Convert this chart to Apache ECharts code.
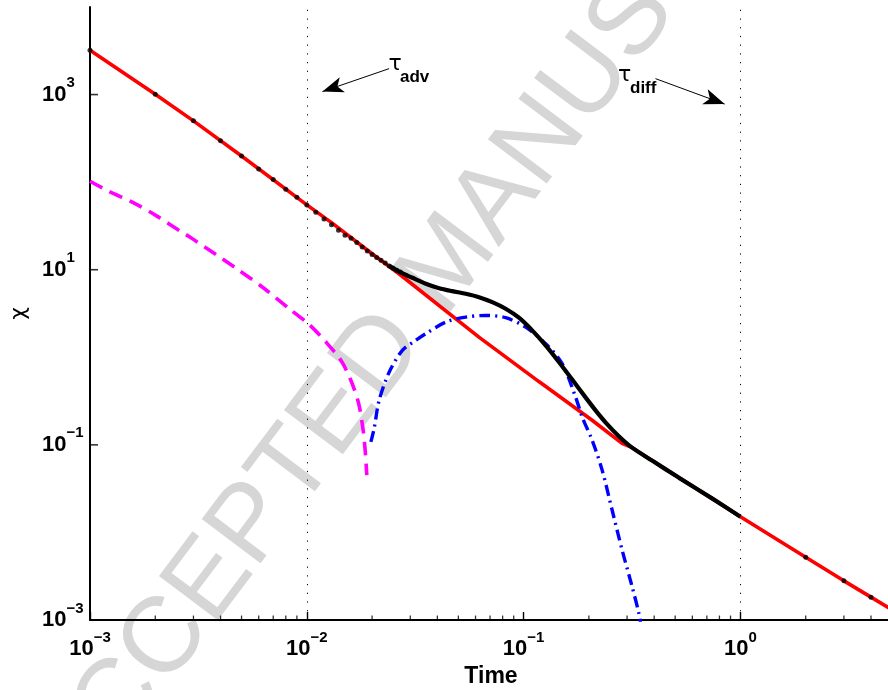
<!DOCTYPE html>
<html><head><meta charset="utf-8">
<script src="https://cdn.jsdelivr.net/npm/echarts@6/dist/echarts.min.js"></script>
<style>html,body{margin:0;padding:0;background:#fff}#c{width:888px;height:690px}</style>
</head><body><div id="c"></div>
<script>
// axis ranges and ticks
const xMin = 1e-3, xMax = 5, yMin = 1e-3, yMax = 1e4;
const xMinorTicks = [0.002,0.003,0.004,0.005,0.006,0.007,0.008,0.009,
  0.02,0.03,0.04,0.05,0.06,0.07,0.08,0.09,
  0.2,0.3,0.4,0.5,0.6,0.7,0.8,0.9,
  2,3,4];
const yTickValues = [1e-3, 1e-1, 1e1, 1e3];
const tauLines = [0.01, 1];

// red solid curve
const redT   = [0.001, 0.002, 0.003, 0.005, 0.01, 0.013, 0.02, 0.0266, 0.0622, 0.1176, 0.207, 0.2844, 0.3164, 0.3912, 0.519, 0.7391, 1, 2, 3, 4, 5];
const redChi = [3206, 1010, 501, 199, 55, 34.5, 15.2, 9.0, 1.70, 0.528, 0.191, 0.1038, 0.0929, 0.0661, 0.04228, 0.02449, 0.01514, 0.00521, 0.0028, 0.001824, 0.00131];

// black markers (sparse part)
const blackDotT   = [0.001,0.002,0.003,0.004,0.005,0.006,0.007,0.008,0.009,0.010,0.011,0.012,0.013,0.014,0.015,0.016,0.017,0.018,0.019,0.020,0.021,0.022,0.023,0.024,0.025,0.026,0.027, 2, 3, 4, 5];
const blackDotChi = [3206,1010,501,297,199,141,107,83,67,55,45.2,38.0,32.7,28.3,24.8,22.9,20.4,18.2,16.4,14.96,13.8,12.8,11.9,11.05,10.37,9.84,9.40, 0.00521, 0.0028, 0.001824, 0.00131];

// black dense part
const blackLineT   = [0.024, 0.026, 0.028, 0.0307, 0.03537, 0.04074, 0.0469, 0.05405, 0.06225, 0.07166, 0.08262, 0.09515, 0.1095, 0.1263, 0.1454, 0.1675, 0.193, 0.2146, 0.2385, 0.2748, 0.3164, 0.3912, 0.519, 0.7391, 1];
const blackLineChi = [11.05, 9.84, 8.98, 8.09, 6.91, 6.155, 5.69, 5.31, 4.86, 4.26, 3.584, 2.83, 2.028, 1.368, 0.883, 0.5563, 0.3486, 0.2478, 0.1809, 0.1256, 0.0929, 0.0661, 0.04228, 0.02449, 0.01514];

// blue dash-dot curve
const blueT   = [0.01974, 0.02044, 0.02156, 0.02397, 0.02759, 0.03181, 0.03537, 0.04372, 0.05405, 0.06683, 0.08262, 0.1021, 0.1263, 0.1506, 0.1736, 0.1862, 0.207, 0.2302, 0.2559, 0.2845, 0.3164, 0.3398, 0.3469];
const blueChi = [0.108, 0.1538, 0.3231, 0.6741, 1.200, 1.561, 1.860, 2.522, 2.875, 3.006, 2.830, 2.212, 1.431, 0.8466, 0.3524, 0.2085, 0.1131, 0.05147, 0.01803, 0.00631, 0.002408, 0.001199, 0.000882];

// magenta dashed curve
const magentaT   = [0.001, 0.00123, 0.001574, 0.002018, 0.002584, 0.002975, 0.004883, 0.006364, 0.008296, 0.01026, 0.01225, 0.01436, 0.01596, 0.01734, 0.01819, 0.01858, 0.01891];
const magentaChi = [102.5, 77.8, 58.8, 41.5, 27.97, 22.5, 9.79, 6.106, 3.584, 2.361, 1.492, 0.923, 0.546, 0.2963, 0.1471, 0.087, 0.04515];

// annotation arrows (data coordinates: from -> to)
const advArrow  = [[0.02396, 1977], [0.01181, 1082]];
const diffArrow = [[0.4055, 1521], [0.8457, 778]];

const zip = (a, b) => a.map((v, i) => [v, b[i]]);
const FONT = 'Liberation Sans';

function expLabel(v, oddOnly) {
  const e = Math.round(Math.log10(v));
  if (Math.abs(Math.log10(v) - e) > 1e-6) return '';
  if (oddOnly && e % 2 === 0) return '';
  return '{b|10}{e|' + (e < 0 ? '\u2212' : '') + Math.abs(e) + '}';
}
const labelRich = {
  b: {fontSize: 22, fontWeight: 'bold', fontFamily: FONT, color: '#000', lineHeight: 38},
  e: {fontSize: 15, fontWeight: 'bold', fontFamily: FONT, color: '#000', lineHeight: 15, verticalAlign: 'top'}
};

const chart = echarts.init(document.getElementById('c'), null, {renderer: 'canvas'});
chart.setOption({
  animation: false,
  backgroundColor: '#fff',
  grid: {left: 90, top: 7, width: 802, bottom: 70, containLabel: false, outerBoundsMode: 'none'},
  graphic: [
    {type: 'text', x: 450, y: 263, rotation: 53 * Math.PI / 180, z: -10, silent: true,
     style: {text: 'ACCEPTED MANUSCRIPT', fill: '#d6d6d6', font: '107px "Liberation Sans"', textAlign: 'center', textVerticalAlign: 'middle'}},
    {type: 'text', x: 395, y: 64, z: 10, silent: true,
     style: {text: '\u03c4', fill: '#000', font: '22px "DejaVu Sans"', textAlign: 'center', textVerticalAlign: 'middle'}},
    {type: 'text', x: 400, y: 77.5, z: 10, silent: true,
     style: {text: 'adv', fill: '#000', font: 'bold 17px "Liberation Sans"', textAlign: 'left', textVerticalAlign: 'middle'}},
    {type: 'text', x: 624.5, y: 75.5, z: 10, silent: true,
     style: {text: '\u03c4', fill: '#000', font: '22px "DejaVu Sans"', textAlign: 'center', textVerticalAlign: 'middle'}},
    {type: 'text', x: 630, y: 88, z: 10, silent: true,
     style: {text: 'diff', fill: '#000', font: 'bold 17px "Liberation Sans"', textAlign: 'left', textVerticalAlign: 'middle'}}
  ],
  xAxis: {
    type: 'log', min: xMin, max: xMax, logBase: 10,
    name: 'Time', nameLocation: 'middle', nameGap: 43,
    nameTextStyle: {fontSize: 23, fontWeight: 'bold', fontFamily: FONT, color: '#000'},
    axisLine: {show: true, lineStyle: {color: '#000', width: 2}},
    axisTick: {show: true, inside: true, length: 8, lineStyle: {color: '#000', width: 1.4}},
    axisLabel: {show: true, margin: 10, formatter: v => expLabel(v, false), rich: labelRich, showMinLabel: true, showMaxLabel: true},
    splitLine: {show: false}, minorTick: {show: false}
  },
  yAxis: {
    type: 'log', min: yMin, max: yMax, logBase: 10,
    name: '\u03c7', nameLocation: 'middle', nameGap: 60, nameRotate: 90,
    nameTextStyle: {fontSize: 22, fontFamily: 'DejaVu Sans', color: '#000'},
    axisLine: {show: true, lineStyle: {color: '#000', width: 2}},
    axisTick: {show: false},
    axisLabel: {show: true, margin: 48, align: 'left', formatter: v => expLabel(v, true), rich: labelRich, showMinLabel: true, showMaxLabel: true},
    splitLine: {show: false}
  },
  series: [
    {name: 'red', type: 'line', data: zip(redT, redChi), showSymbol: false, symbol: 'none', z: 2,
     lineStyle: {color: '#ff0000', width: 3.6}, silent: true,
     markLine: {silent: true, symbol: 'none', animation: false, label: {show: false},
       lineStyle: {color: '#000', width: 1, type: [1.2, 7.5]},
       data: tauLines.map(v => ({xAxis: v}))}},
    {name: 'blue', type: 'line', data: zip(blueT, blueChi), showSymbol: false, symbol: 'none', smooth: 0.3, z: 3,
     lineStyle: {color: '#0000ff', width: 3.4, type: [11, 5, 2, 5]}, silent: true,
     markLine: {silent: true, animation: false, label: {show: false}, symbol: ['none', 'arrow'], symbolSize: [12, 21],
       lineStyle: {color: '#000', width: 1, type: 'solid'},
       data: [[{coord: advArrow[0]}, {coord: advArrow[1]}], [{coord: diffArrow[0]}, {coord: diffArrow[1]}]]}},
    {name: 'magenta', type: 'line', data: zip(magentaT, magentaChi), showSymbol: false, symbol: 'none', smooth: 0.3, z: 3,
     lineStyle: {color: '#ff00ff', width: 3.6, type: [14, 8]}, silent: true},
    {name: 'blackLine', type: 'line', data: zip(blackLineT, blackLineChi), showSymbol: false, symbol: 'none', smooth: 0.25, z: 4,
     lineStyle: {color: '#000', width: 4.2}, silent: true},
    {name: 'blackDots', type: 'scatter', data: zip(blackDotT, blackDotChi), symbol: 'circle', symbolSize: 5, z: 4,
     itemStyle: {color: '#000'}, silent: true},
    {name: 'yTicks', type: 'scatter', data: yTickValues.map(v => [xMin, v]), symbol: 'rect', symbolSize: [8, 1.6], symbolOffset: [4, 0],
     itemStyle: {color: '#000'}, silent: true, clip: false, z: 6},
    {name: 'xMinor', type: 'scatter', data: xMinorTicks.map(v => [v, yMin]), symbol: 'rect', symbolSize: [1.3, 4.5], symbolOffset: [0, -2.2],
     itemStyle: {color: '#000'}, silent: true, clip: false, z: 6}
  ]
});
</script>
</body></html>
